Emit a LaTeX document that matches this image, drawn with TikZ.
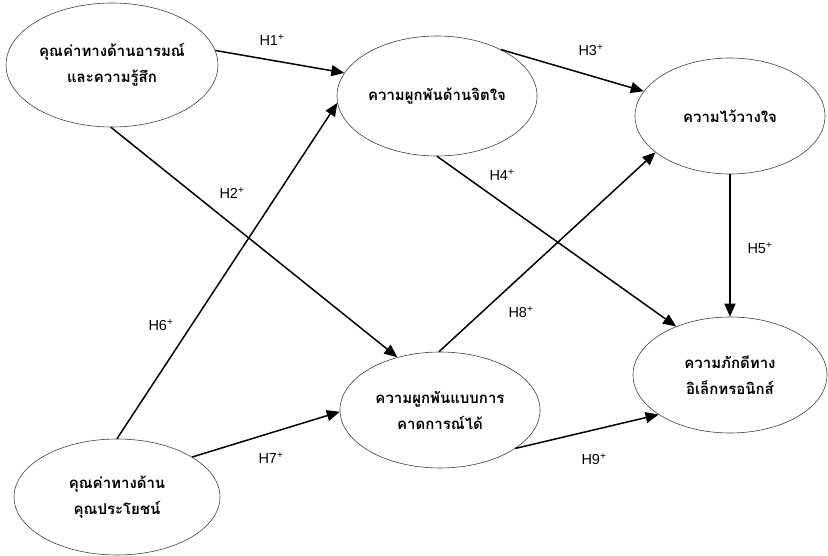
\documentclass[tikz,border=0pt]{standalone}
\usepackage{fontspec}
\setmainfont{Liberation Sans}
\newfontfamily\thaifont[Script=Thai]{Loma}
\usetikzlibrary{arrows.meta,shapes.geometric}
\tikzset{
  construct/.style={draw=black!75,line width=.6pt,ellipse,inner sep=0pt,align=center,
    font=\thaifont\bfseries\fontsize{15}{26}\selectfont},
  link/.style={line width=1.5pt,-{Triangle[length=13pt,width=11pt]}},
  hyp/.style={font=\fontsize{14.5}{16}\selectfont}
}
\begin{document}
\begin{tikzpicture}[x=1pt,y=-1pt]
\useasboundingbox (0,0) rectangle (828,556);

\node[construct,minimum width=212pt,minimum height=124pt] (emo) at (112,65) {คุณค่าทางด้านอารมณ์\\และความรู้สึก};
\node[construct,minimum width=200pt,minimum height=120pt] (affc) at (437,96) {ความผูกพันด้านจิตใจ};
\node[construct,minimum width=190pt,minimum height=116pt] (trust) at (730,116) {ความไว้วางใจ};
\node[construct,minimum width=200pt,minimum height=116pt] (calc) at (440,410) {ความผูกพันแบบการ\\คาดการณ์ได้};
\node[construct,minimum width=194pt,minimum height=116pt] (loyal) at (730,375) {ความภักดีทาง\\อิเล็กทรอนิกส์};
\node[construct,minimum width=206pt,minimum height=116pt] (util) at (117,497) {คุณค่าทางด้าน\\คุณประโยชน์};

\draw[link] (emo.8) -- (affc.166);
\draw[link] (emo.-91) -- (calc.129);
\draw[link] (affc.36) -- (trust.164);
\draw[link] (affc.-90) -- (loyal.138);
\draw[link] (trust.south) -- (loyal.north);
\draw[link] (util.90) -- (affc.184);
\draw[link] (util.28) -- (calc.181);
\draw[link] (calc.91) -- (trust.206);
\draw[link] (calc.-27) -- (loyal.209);

\node[hyp] (h1) at (272,40) {H1\textsuperscript{+}};
\node[hyp] (h2) at (232,193) {H2\textsuperscript{+}};
\node[hyp] (h3) at (591,50) {H3\textsuperscript{+}};
\node[hyp] (h4) at (502,175) {H4\textsuperscript{+}};
\node[hyp] (h5) at (760,248) {H5\textsuperscript{+}};
\node[hyp] (h6) at (161,325) {H6\textsuperscript{+}};
\node[hyp] (h7) at (271,458) {H7\textsuperscript{+}};
\node[hyp] (h8) at (521,312) {H8\textsuperscript{+}};
\node[hyp] (h9) at (594,459) {H9\textsuperscript{+}};

\end{tikzpicture}
\end{document}
